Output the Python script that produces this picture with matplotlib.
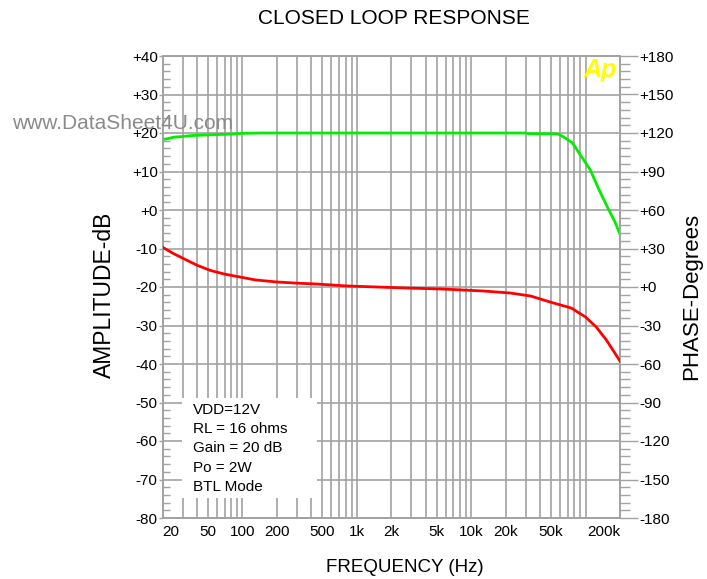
import matplotlib
matplotlib.use("Agg")
import matplotlib.pyplot as plt
from matplotlib.ticker import FixedLocator, MultipleLocator
from matplotlib.patches import Rectangle

plt.rcParams['font.family'] = ['Liberation Sans', 'DejaVu Sans']

# ---- data ----
green_freq = [20, 22, 25, 30, 35, 40, 50, 60, 80, 100, 150, 200, 500, 1000, 5000,
              10000, 20000, 30000, 32000, 50000, 58000, 65000, 77000, 90000,
              110000, 130000, 155000, 180000, 200000]
green_db = [18.3, 18.5, 18.9, 19.1, 19.3, 19.4, 19.5, 19.6, 19.7, 19.9, 20.0, 20.0, 20.0, 20.0, 20.0,
            20.0, 20.0, 20.0, 19.8, 19.8, 19.7, 18.9, 17.4, 14.3,
            10.4, 5.5, 0.8, -3.0, -6.3]

red_freq = [20, 25, 30, 40, 52, 70, 95, 130, 200, 300, 450, 820, 1500, 2700, 5700,
            12700, 22000, 33000, 49000, 75000, 100000, 124000, 152000, 200000]
red_deg = [31, 26, 22.5, 17, 13, 10, 7.8, 5.5, 3.9, 3, 2.3, 0.8, 0, -0.8, -1.6,
           -3.1, -4.7, -7, -11.7, -16.4, -23.4, -31.2, -41.3, -57.7]

x_tick_vals = [20, 50, 100, 200, 500, 1000, 2000, 5000, 10000, 20000, 50000, 200000]
x_tick_labels = ['20', '50', '100', '200', '500', '1k', '2k', '5k', '10k', '20k', '50k', '200k']
left_ticks = [40, 30, 20, 10, 0, -10, -20, -30, -40, -50, -60, -70, -80]
left_labels = ['+40', '+30', '+20', '+10', '+0', '-10', '-20', '-30', '-40', '-50', '-60', '-70', '-80']
right_ticks = [180, 150, 120, 90, 60, 30, 0, -30, -60, -90, -120, -150, -180]
right_labels = ['+180', '+150', '+120', '+90', '+60', '+30', '+0', '-30', '-60', '-90', '-120', '-150', '-180']
notes = ['VDD=12V', 'RL = 16 ohms', 'Gain = 20 dB', 'Po = 2W', 'BTL Mode']

grid_freqs = [m * 10 ** e for e in range(1, 6) for m in range(1, 10)]
grid_freqs = [f for f in grid_freqs if 20 <= f <= 200000]

GRID = '#a2a2a2'

fig = plt.figure(figsize=(7.07, 5.79), dpi=100)
ax = fig.add_axes([162.5 / 707, 61 / 579, 457.5 / 707, 462 / 579])
ax.set_xscale('log')
ax.set_xlim(20, 200000)
ax.set_ylim(-80, 40)

for f in grid_freqs:
    ax.axvline(f, color=GRID, lw=1.2, zorder=1)
for y in left_ticks:
    ax.axhline(y, color=GRID, lw=1.2, zorder=1)

ax.plot(green_freq, green_db, color='#00ee00', lw=2.0, zorder=5, solid_joinstyle='round')

# x ticks
ax.xaxis.set_major_locator(FixedLocator(x_tick_vals))
ax.xaxis.set_minor_locator(FixedLocator([]))
ax.set_xticklabels(x_tick_labels, fontsize=11)
ax.tick_params(axis='x', which='both', length=0, pad=5)
xl = ax.get_xticklabels()
xl[0].set_ha('left')
xl[-1].set_ha('right')

# left y
ax.set_yticks(left_ticks)
ax.set_yticklabels(left_labels, fontsize=11)
ax.yaxis.set_minor_locator(MultipleLocator(2))
ax.tick_params(axis='y', which='major', direction='out', length=3, pad=0.5, color=GRID, width=1)
ax.tick_params(axis='y', which='minor', direction='in', length=5, color=GRID, width=1)

for s in ax.spines.values():
    s.set_color(GRID)
    s.set_linewidth(1.2)

# right axis (phase)
ax2 = ax.twinx()
ax2.set_ylim(-180, 180)
ax2.plot(red_freq, red_deg, color='#ff0000', lw=2.0, zorder=5, solid_joinstyle='round')
ax2.set_yticks(right_ticks)
ax2.set_yticklabels(right_labels, fontsize=11)
ax2.yaxis.set_minor_locator(MultipleLocator(6))
ax2.tick_params(axis='y', which='major', direction='out', length=13, pad=1, color=GRID, width=1)
ax2.tick_params(axis='y', which='minor', direction='out', length=7, color=GRID, width=1)
for s in ax2.spines.values():
    s.set_color(GRID)
    s.set_linewidth(1.2)

# notes box
ax.add_patch(Rectangle((0.0426, 0.0433), 0.2951, 0.2164, transform=ax.transAxes,
                       facecolor='white', edgecolor='none', zorder=3))
note_y = [0.2338, 0.1926, 0.1515, 0.1082, 0.0671]
for t, yy in zip(notes, note_y):
    ax.text(0.0667, yy, t, transform=ax.transAxes, fontsize=11, va='center', ha='left', zorder=4)

# titles / labels
fig.text(394 / 707, 1 - 19 / 579, 'CLOSED LOOP RESPONSE', fontsize=15, ha='center', va='center')
fig.text(405 / 707, 1 - 568 / 579, 'FREQUENCY (Hz)', fontsize=13.5, ha='center', va='center')
fig.text(104 / 707, 1 - 295 / 579, 'AMPLITUDE-dB', fontsize=16.5, rotation=90, ha='center', va='center')
fig.text(692 / 707, 1 - 296 / 579, 'PHASE-Degrees', fontsize=16, rotation=90, ha='center', va='center')

# logo and watermark
fig.text(600 / 707, 1 - 70 / 579, 'Ap', fontsize=18, color='#ffff00', fontweight='bold',
         fontstyle='italic', ha='center', va='center', zorder=10)
fig.text(123 / 707, 1 - 124 / 579, 'www.DataSheet4U.com', fontsize=15, color='#8a8a8a',
         ha='center', va='center', zorder=10)

fig.savefig('out.png', dpi=100)
